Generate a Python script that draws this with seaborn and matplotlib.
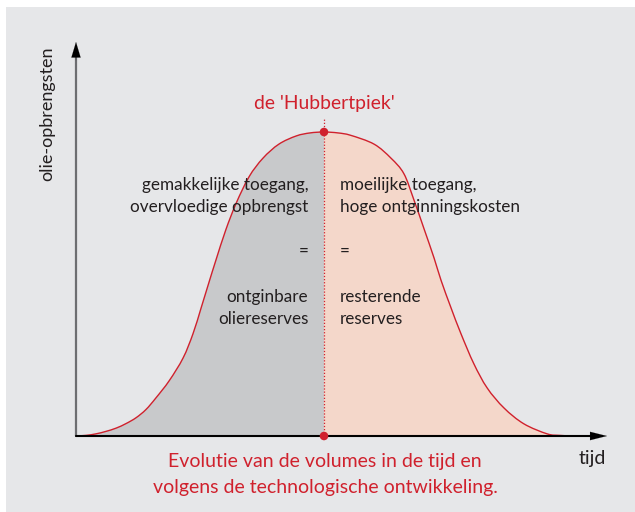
import matplotlib
matplotlib.use("Agg")
import matplotlib.pyplot as plt
from matplotlib.patches import Rectangle, PathPatch
from matplotlib.path import Path
import seaborn as sns
import pandas as pd
import numpy as np

# ---- data (time and output in relative units, peak = 100) ----
left_t = [0, 2.0, 4.0, 6.0, 8.1, 10.1, 12.1, 14.1, 16.1, 18.8, 21.6, 23.6, 25.2,
          26.8, 28.2, 30.2, 32.3, 34.9, 37.7, 40.9, 44.4, 47.2, 50]
left_v = [0, 0.2, 0.7, 1.5, 2.6, 4.1, 6.0, 8.7, 12.5, 18.2, 25.7, 33.7, 42.0,
          50.5, 57.8, 67.8, 76.6, 85.3, 91.4, 96.0, 98.7, 99.7, 100]
right_t = [50, 52.8, 55.4, 60.1, 63.5, 66.1, 68.1, 70.2, 72.2, 73.6, 75.6, 77.6,
           80.2, 82.9, 86.3, 90.3, 95.0, 97.5, 100]
right_v = [100, 99.7, 98.9, 96.0, 91.4, 86.3, 77.8, 68.0, 58.5, 51.2, 42.2, 33.7,
           23.8, 15.8, 9.2, 4.0, 0.7, 0.2, 0]
peak_t = 50
peak_v = 100

peak_label = "de 'Hubbertpiek'"
left_lines = ["gemakkelijke toegang,", "overvloedige opbrengst", "=", "ontginbare", "oliereserves"]
right_lines = ["moeilijke toegang,", "hoge ontginningskosten", "=", "resterende", "reserves"]
bottom_lines = ["Evolutie van de volumes in de tijd en",
                "volgens de technologische ontwikkeling."]
x_label = "tijd"
y_label = "olie-opbrengsten"

# ---- styling ----
sns.set_theme(style="white")
plt.rcParams['font.family'] = ['Lato', 'DejaVu Sans']

RED = '#d0212d'
TXT = '#231f20'
BG = '#e6e7e9'
GRAY_FILL = '#c8c9cb'
PEACH_FILL = '#f4d7ca'

W, H = 635, 512
fig = plt.figure(figsize=(W / 100, H / 100), dpi=100)
fig.patch.set_facecolor('white')
bg = Rectangle((6 / W, 0), (W - 6) / W, (H - 7) / H,
               transform=fig.transFigure, facecolor=BG, edgecolor='none', zorder=-10)
fig.patches.append(bg)

# axes box: origin at px (76, 436), x arrow tip 607, y arrow tip 42
x0, y0, x1, y1 = 76, 436, 607, 42
ax = fig.add_axes([x0 / W, (H - y0) / H, (x1 - x0) / W, (y0 - y1) / H])
ax.set_zorder(5)
ax.set_facecolor('none')
XMAX = (x1 - x0) / 4.96
YMAX = (y0 - y1) / 3.04
ax.set_xlim(0, XMAX)
ax.set_ylim(0, YMAX)
ax.axis('off')


def smooth_path_vertices(xs, ys):
    """Cubic Bezier (Catmull-Rom) path passing through the given data points."""
    P = np.column_stack([xs, ys]).astype(float)
    Pp = np.vstack([P[0], P, P[-1]])
    verts = [P[0]]
    codes = [Path.MOVETO]
    for i in range(len(P) - 1):
        p0, p1, p2, p3 = Pp[i], Pp[i + 1], Pp[i + 2], Pp[i + 3]
        c1 = p1 + (p2 - p0) / 6.0
        c2 = p2 - (p3 - p1) / 6.0
        verts += [c1, c2, p2]
        codes += [Path.CURVE4] * 3
    return verts, codes


curve_t = left_t + right_t[1:]
curve_v = left_v + right_v[1:]
verts, codes = smooth_path_vertices(curve_t, curve_v)
n_left = (len(left_t) - 1) * 3 + 1

# fills (left = gemakkelijke, right = resterende)
lv = verts[:n_left] + [(peak_t, 0), (0, 0)]
lc = codes[:n_left] + [Path.LINETO, Path.CLOSEPOLY]
ax.add_patch(PathPatch(Path(lv, lc), facecolor=GRAY_FILL, edgecolor='none', zorder=1))
rv = [verts[n_left - 1]] + verts[n_left:] + [(peak_t, 0), (peak_t, peak_v)]
rc = [Path.MOVETO] + codes[n_left:] + [Path.LINETO, Path.CLOSEPOLY]
ax.add_patch(PathPatch(Path(rv, rc), facecolor=PEACH_FILL, edgecolor='none', zorder=1))

# curve
ax.add_patch(PathPatch(Path(verts, codes), facecolor='none', edgecolor=RED,
                       lw=1.0, zorder=3, capstyle='round'))

# dotted peak line
ax.plot([peak_t, peak_t], [0, 104.6], ls=(0, (1, 1.5)), color=RED, lw=0.9, zorder=2)

# axes lines with arrows
ax.plot([0, 0], [0, YMAX - 4], color='#6d6e71', lw=1.6, zorder=4, clip_on=False)
ax.annotate('', xy=(0, YMAX), xytext=(0, YMAX - 6), zorder=5,
            arrowprops=dict(arrowstyle='-|>,head_length=1.1,head_width=0.33',
                            mutation_scale=10, color='black', lw=0.1, shrinkA=0, shrinkB=0),
            annotation_clip=False)
ax.plot([0, XMAX - 3], [0, 0], color='black', lw=1.5, zorder=4, clip_on=False)
ax.annotate('', xy=(XMAX, 0), xytext=(XMAX - 4, 0), zorder=5,
            arrowprops=dict(arrowstyle='-|>,head_length=1.2,head_width=0.3',
                            mutation_scale=10, color='black', lw=0.1, shrinkA=0, shrinkB=0),
            annotation_clip=False)

# red dots
dots = pd.DataFrame({'t': [peak_t, peak_t], 'v': [peak_v, 0]})
sns.scatterplot(data=dots, x='t', y='v', color=RED, s=38, edgecolor='none',
                ax=ax, zorder=6, clip_on=False)

# texts
FS = 12.3
ax.text(peak_t, 109.4, peak_label, color=RED, fontsize=13.9, ha='center', va='center')
line_v = [82.6, 75.3, 60.9, 45.7, 38.5]
for s, v in zip(left_lines, line_v):
    ax.text(46.8, v, s, color=TXT, fontsize=FS, ha='right', va='center')
for s, v in zip(right_lines, line_v):
    ax.text(53.2, v, s, color=TXT, fontsize=FS, ha='left', va='center')
ax.text(50.2, -8.3, bottom_lines[0], color=RED, fontsize=14, ha='center', va='center')
ax.text(50.2, -16.8, bottom_lines[1], color=RED, fontsize=14, ha='center', va='center')
ax.text(104.0, -7.4, x_label, color=TXT, fontsize=14, ha='center', va='center')
ax.text(-5.8, 105.9, y_label, color=TXT, fontsize=13, ha='center', va='center', rotation=90)

fig.savefig('out.png', dpi=100, facecolor='white')
